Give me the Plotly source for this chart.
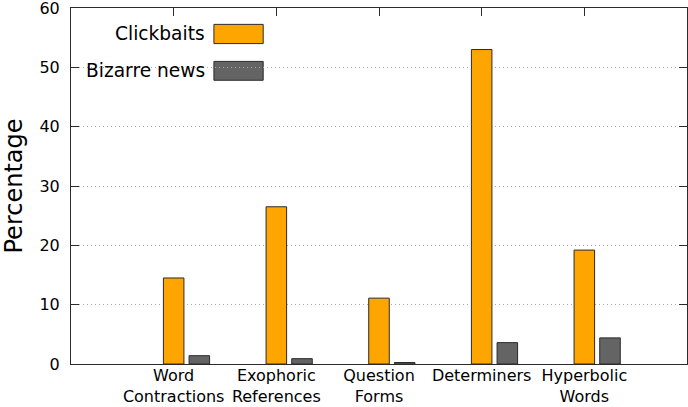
import plotly.graph_objects as go

# categories and values
categories = ["Word<br>Contractions", "Exophoric<br>References", "Question<br>Forms",
              "Determiners", "Hyperbolic<br>Words"]
clickbaits = [14.5, 26.5, 11.1, 53.0, 19.2]
bizarre_news = [1.4, 0.9, 0.25, 3.6, 4.4]
series_names = ["Clickbaits", "Bizarre news"]
y_ticks = [0, 10, 20, 30, 40, 50, 60]

ORANGE = "#FFA500"
GREY = "#646464"
EDGE = "#2b2b2b"
FONT = "DejaVu Sans"

fig = go.Figure()
fig.add_trace(go.Bar(x=categories, y=clickbaits, name=series_names[0], width=0.2, offset=-0.1,
                     marker=dict(color=ORANGE, line=dict(color=EDGE, width=1)), showlegend=False))
fig.add_trace(go.Bar(x=categories, y=bizarre_news, name=series_names[1], width=0.2, offset=0.15,
                     marker=dict(color=GREY, line=dict(color=EDGE, width=1)), showlegend=False))

# gnuplot-style key: label on the left, box on the right, opaque background
shapes = [dict(type="rect", xref="paper", yref="paper", x0=0.02, x1=0.325, y0=0.77, y1=0.973,
               fillcolor="white", line=dict(width=0), layer="between")]
annos = []
key_rows = [(0.954, 0.900, 0.927, ORANGE), (0.850, 0.797, 0.824, GREY)]
for name, (ya, yb, yc, col) in zip(series_names, key_rows):
    shapes.append(dict(type="rect", xref="paper", yref="paper", x0=0.232, x1=0.312, y0=yb, y1=ya,
                       fillcolor=col, line=dict(color=EDGE, width=1), layer="between"))
    annos.append(dict(text=name, xref="paper", yref="paper", x=0.2205, y=yc, xanchor="right",
                      yanchor="middle", showarrow=False, font=dict(family=FONT, size=18.6, color="black")))

fig.update_layout(
    width=688, height=407, barmode="overlay",
    margin=dict(l=71, r=1, t=8, b=43),
    paper_bgcolor="white", plot_bgcolor="white",
    font=dict(family=FONT, size=16, color="black"),
    shapes=shapes, annotations=annos,
)
fig.update_xaxes(type="category", range=[-1, 5], showline=True, linecolor=EDGE, linewidth=1,
                 mirror="ticks", ticks="inside", ticklen=8, tickcolor=EDGE, showgrid=False,
                 layer="below traces", tickfont=dict(size=16), automargin=False,
                 ticklabelstandoff=-3)
fig.update_yaxes(range=[0, 60], tickvals=y_ticks, showline=True, linecolor=EDGE, linewidth=1,
                 mirror="ticks", ticks="inside", ticklen=8, tickcolor=EDGE,
                 showgrid=True, gridcolor="#a8a8a8", griddash="1px,3px", gridwidth=1,
                 zeroline=False, ticklabelstandoff=7, automargin=False, ticklabeloverflow="allow",
                 title=dict(text="Percentage", font=dict(size=24), standoff=12))

# page body has a default 8px margin; drop it so the figure sits at the window corner
fig.write_html("out.html", config={"displayModeBar": False},
               post_script="document.body.style.margin='0';")
